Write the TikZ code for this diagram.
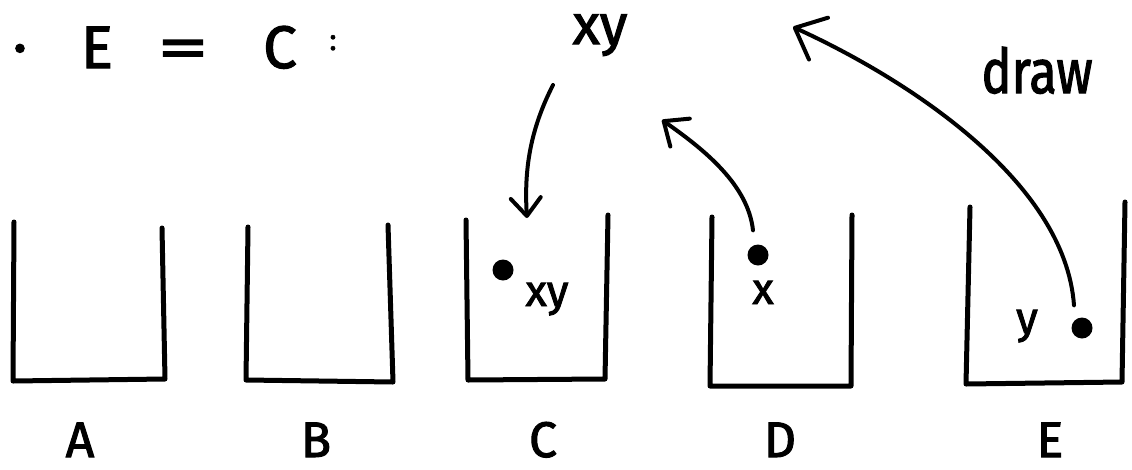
\documentclass[tikz,border=0pt]{standalone}
\usepackage{fontspec}
\setmainfont{Fira Sans}
\newfontfamily\handfont{Fira Sans}[FakeBold=2]
\usetikzlibrary{arrows.meta}

\tikzset{
  ink/.style={line width=5pt, line cap=round, line join=round},
  flow/.style={line width=4pt, line cap=round, line join=round},
  bead/.style={circle, fill, draw=none, inner sep=0pt, minimum size=21pt},
  txt/.style={anchor=base, inner sep=0pt, outer sep=0pt},
  huge/.style={txt, font=\handfont\fontsize{60}{60}\selectfont},
  big/.style={txt, font=\handfont\fontsize{56}{56}\selectfont},
  binlabel/.style={txt, font=\handfont\fontsize{50}{50}\selectfont},
  inner/.style={txt, font=\handfont\fontsize{44}{44}\selectfont},
}

\begin{document}
\begin{tikzpicture}[x=1pt, y=-1pt]
  \useasboundingbox (0,0) rectangle (1132,469);

  % heading: E = C :
  \node[huge] (h-dot) at (20,67) {·};
  \node[huge] (h-E)   at (97,68) {E};
  \node[huge] (h-eq)  at (183,68) {\scalebox{1.7}[1]{=}};
  \node[huge] (h-C)   at (280,68) {C};
  \node[txt, font=\handfont\fontsize{30}{30}\selectfont] (h-colon) at (333,50) {:};

  % the five buckets
  \draw[ink] (14,222)  -- (13,381)  -- (165,379)  -- (162,228);
  \draw[ink] (248,227) -- (246,380) -- (393,382)  -- (388,225);
  \draw[ink] (466,220) -- (468,380) -- (605,379)  -- (608,215);
  \draw[ink] (712,217) -- (710,386) -- (851,386)  -- (852,215);
  \draw[ink] (970,207) -- (966,384) -- (1122,382) -- (1125,202);

  % bucket labels
  \node[binlabel] (lA) at (80,457)   {A};
  \node[binlabel] (lB) at (316,457)  {B};
  \node[binlabel] (lC) at (543,457)  {C};
  \node[binlabel] (lD) at (780,457)  {D};
  \node[binlabel] (lE) at (1050,457) {E};

  % contents of the buckets
  \node[bead] (dotC) at (503,270) {};
  \node[inner] (xyC) at (547,306) {xy};
  \node[bead] (dotD) at (758,255) {};
  \node[inner] (xD) at (763,304) {x};
  \node[bead] (dotE) at (1082,328) {};
  \node[inner] (yE) at (1027,333) {y};

  % free-standing labels
  \node[big] (xyTop) at (600,44) {xy};
  \node[big] (drawLbl) at (1037,93) {\scalebox{0.9}[1.1]{draw}};

  % arrow ends
  \coordinate (xyOut) at (553,85);
  \coordinate (cIn)   at (527,218);
  \coordinate (upD)   at (662,120);
  \coordinate (upE)   at (793,27);

  % arrows
  \draw[flow, -{Straight Barb[length=18pt, width=30pt, round]}]
    (xyOut) .. controls (530,130) and (524,170) .. (cIn);
  \draw[flow, -{Straight Barb[length=20pt, width=34pt, round]}]
    ([shift={(-5pt,14pt)}]dotD.north) .. controls (748,185) and (705,150) .. (upD);
  \draw[flow, -{Straight Barb[length=26pt, width=46pt, round]}]
    ([shift={(-8pt,12pt)}]dotE.north) .. controls (1065,180) and (905,78) .. (upE);
\end{tikzpicture}
\end{document}
